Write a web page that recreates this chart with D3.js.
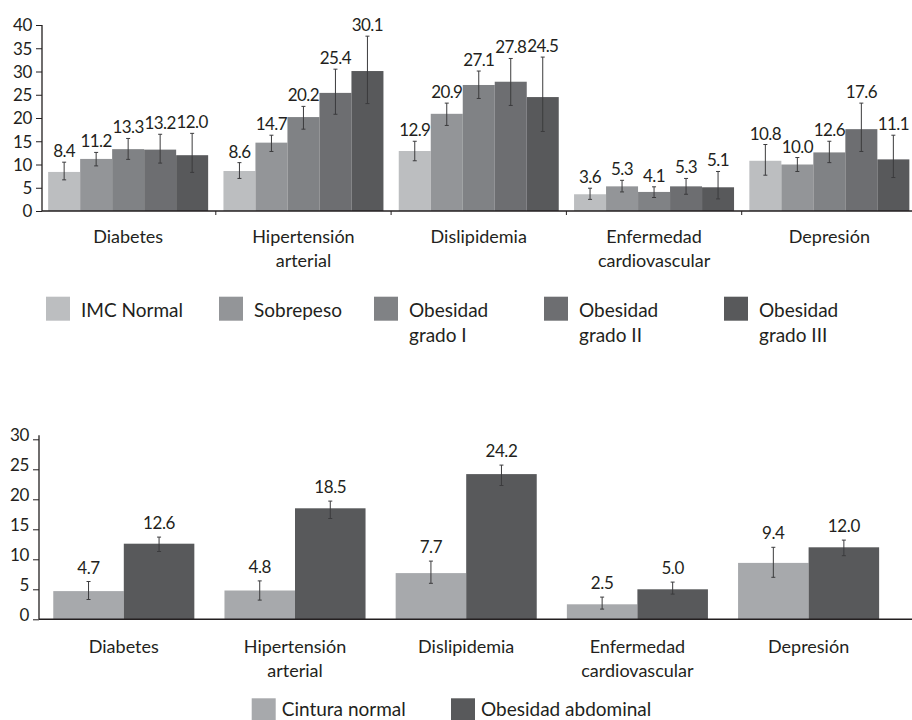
<!DOCTYPE html>
<html>
<head>
<meta charset="utf-8">
<script src="https://cdn.jsdelivr.net/npm/d3@7/dist/d3.min.js"></script>
<style>
  html, body { margin: 0; padding: 0; background: #fff; }
  svg { display: block; }
  text { font-family: Lato, "Open Sans", sans-serif; fill: #231f20; }
</style>
</head>
<body>
<svg id="chart" width="912" height="720"></svg>
<script>
// Disease categories (each entry split into its display lines)
const categories = ["Diabetes", "Hipertensión arterial", "Dislipidemia", "Enfermedad cardiovascular", "Depresión"];
const categoryLines = [["Diabetes"], ["Hipertensión", "arterial"], ["Dislipidemia"], ["Enfermedad", "cardiovascular"], ["Depresión"]];

// Panel 1: prevalence (%) by BMI category, with 95% CI
const imcSeries = ["IMC Normal", "Sobrepeso", "Obesidad grado I", "Obesidad grado II", "Obesidad grado III"];
const imcLegendLines = [["IMC Normal"], ["Sobrepeso"], ["Obesidad", "grado I"], ["Obesidad", "grado II"], ["Obesidad", "grado III"]];
const imcNormal     = [8.4, 8.6, 12.9, 3.6, 10.8];
const sobrepeso     = [11.2, 14.7, 20.9, 5.3, 10.0];
const obesidadI     = [13.3, 20.2, 27.1, 4.1, 12.6];
const obesidadII    = [13.2, 25.4, 27.8, 5.3, 17.6];
const obesidadIII   = [12.0, 30.1, 24.5, 5.1, 11.1];
const imcNormalLo   = [6.7, 7.0, 10.8, 2.5, 7.7];
const imcNormalHi   = [10.5, 10.4, 15.0, 4.9, 14.3];
const sobrepesoLo   = [9.7, 12.8, 18.4, 4.1, 8.5];
const sobrepesoHi   = [12.6, 16.3, 23.2, 6.6, 11.5];
const obesidadILo   = [11.1, 17.6, 24.2, 2.9, 10.4];
const obesidadIHi   = [15.6, 22.5, 30.1, 5.2, 15.0];
const obesidadIILo  = [10.3, 20.8, 22.7, 3.6, 12.8];
const obesidadIIHi  = [16.5, 30.5, 32.8, 7.0, 23.2];
const obesidadIIILo = [8.3, 23.1, 17.1, 2.6, 7.2];
const obesidadIIIHi = [16.7, 37.6, 33.1, 8.5, 16.3];
const imcTicks = [0, 5, 10, 15, 20, 25, 30, 35, 40];

// Panel 2: prevalence (%) by waist circumference, with 95% CI
const cinturaSeries = ["Cintura normal", "Obesidad abdominal"];
const cinturaNormal     = [4.7, 4.8, 7.7, 2.5, 9.4];
const obesidadAbdominal = [12.6, 18.5, 24.2, 5.0, 12.0];
const cinturaNormalLo   = [3.3, 3.2, 6.0, 1.7, 7.0];
const cinturaNormalHi   = [6.3, 6.4, 9.7, 3.7, 12.0];
const obesidadAbdLo     = [11.3, 16.8, 22.3, 4.2, 10.6];
const obesidadAbdHi     = [13.7, 19.7, 25.7, 6.2, 13.2];
const cinturaTicks = [0, 5, 10, 15, 20, 25, 30];

const imcColors = ["#bcbec0", "#939598", "#808285", "#6d6e71", "#58595b"];
const cinturaColors = ["#a7a9ac", "#58595b"];
const ink = "#231f20";

const svg = d3.select("#chart");

function buildRows(values, lo, hi) {
  return values.map((vals, s) => vals.map((v, i) => ({ s, cat: categories[i], v, lo: lo[s][i], hi: hi[s][i] })));
}

function drawPanel(cfg) {
  const g = svg.append("g");
  const y = d3.scaleLinear().domain(cfg.yDomain).range(cfg.yRange);
  const step = (cfg.xRange[1] - cfg.xRange[0]) / categories.length;
  const x0 = d3.scaleBand().domain(categories).range(cfg.xRange)
    .paddingInner(cfg.pad).paddingOuter(cfg.pad / 2);
  const x1 = d3.scaleBand().domain(d3.range(cfg.series.length)).range([0, x0.bandwidth()]);

  // bars
  const rows = buildRows(cfg.values, cfg.lo, cfg.hi).flat();
  g.selectAll("rect.bar").data(rows).join("rect")
    .attr("class", "bar")
    .attr("x", d => x0(d.cat) + x1(d.s))
    .attr("width", x1.bandwidth())
    .attr("y", d => y(d.v))
    .attr("height", d => y(0) - y(d.v))
    .attr("fill", d => cfg.colors[d.s]);

  // confidence intervals
  const eb = g.selectAll("g.err").data(rows).join("g")
    .attr("class", "err")
    .attr("transform", d => `translate(${x0(d.cat) + x1(d.s) + x1.bandwidth() / 2},0)`)
    .attr("stroke", "#3b3b3d").attr("stroke-width", 1);
  eb.append("line").attr("y1", d => y(d.lo)).attr("y2", d => y(d.hi));
  eb.append("line").attr("x1", -2).attr("x2", 2).attr("y1", d => y(d.lo)).attr("y2", d => y(d.lo));
  eb.append("line").attr("x1", -2).attr("x2", 2).attr("y1", d => y(d.hi)).attr("y2", d => y(d.hi));

  // value labels
  g.selectAll("text.val").data(rows).join("text")
    .attr("class", "val")
    .attr("x", d => x0(d.cat) + x1(d.s) + x1.bandwidth() / 2)
    .attr("y", d => y(d.hi) - cfg.labelGap)
    .attr("text-anchor", "middle")
    .attr("font-size", cfg.valSize)
    .attr("letter-spacing", cfg.valSpacing)
    .text(d => d.v.toFixed(1));

  // y axis
  const yAxis = g.append("g").attr("transform", `translate(${cfg.axisX},0)`)
    .call(d3.axisLeft(y).tickValues(cfg.ticks).tickSize(6).tickPadding(4).tickFormat(d3.format("d")));
  yAxis.select(".domain").remove();
  yAxis.selectAll(".tick line").attr("stroke", ink).attr("stroke-width", 1);
  yAxis.selectAll(".tick text").attr("font-size", cfg.tickSize).attr("fill", ink)
    .attr("font-family", "Lato, sans-serif").attr("dy", cfg.tickDy).attr("letter-spacing", -0.3);
  g.append("line").attr("x1", cfg.axisX).attr("x2", cfg.axisX)
    .attr("y1", y(cfg.yDomain[1]) - cfg.axisOver).attr("y2", y(0))
    .attr("stroke", ink).attr("stroke-width", 1.3);

  // x axis
  g.append("line").attr("x1", cfg.axisX).attr("x2", 912)
    .attr("y1", y(0)).attr("y2", y(0)).attr("stroke", ink).attr("stroke-width", 1.5);
  if (cfg.groupTicks) {
    g.selectAll("line.gt").data(d3.range(1, categories.length)).join("line")
      .attr("class", "gt")
      .attr("x1", i => cfg.xRange[0] + i * step).attr("x2", i => cfg.xRange[0] + i * step)
      .attr("y1", y(0)).attr("y2", y(0) + 4)
      .attr("stroke", ink).attr("stroke-width", 1);
  }

  // category labels
  const cl = g.selectAll("text.cat").data(categories).join("text")
    .attr("class", "cat")
    .attr("text-anchor", "middle")
    .attr("font-size", cfg.catSize)
    .attr("x", c => x0(c) + x0.bandwidth() / 2)
    .attr("y", cfg.catY);
  cl.selectAll("tspan").data((c, i) => categoryLines[i]).join("tspan")
    .attr("x", function () { return d3.select(this.parentNode).attr("x"); })
    .attr("dy", (t, j) => j === 0 ? 0 : cfg.catLine)
    .text(t => t);
}

// Panel 1
drawPanel({
  values: [imcNormal, sobrepeso, obesidadI, obesidadII, obesidadIII],
  lo: [imcNormalLo, sobrepesoLo, obesidadILo, obesidadIILo, obesidadIIILo],
  hi: [imcNormalHi, sobrepesoHi, obesidadIHi, obesidadIIHi, obesidadIIIHi],
  series: imcSeries, colors: imcColors,
  yDomain: [0, 40], yRange: [211, 25], ticks: imcTicks,
  xRange: [40.5, 917], pad: 0.0873, axisX: 42, axisOver: 0,
  labelGap: 5, valSize: 17, valSpacing: -0.6,
  tickSize: 17, tickDy: "0.34em",
  groupTicks: true, catSize: 18, catY: 243, catLine: 24
});

// Panel 2
drawPanel({
  values: [cinturaNormal, obesidadAbdominal],
  lo: [cinturaNormalLo, obesidadAbdLo],
  hi: [cinturaNormalHi, obesidadAbdHi],
  series: cinturaSeries, colors: cinturaColors,
  yDomain: [0, 30], yRange: [619.3, 439.3], ticks: cinturaTicks,
  xRange: [38.2, 894.2], pad: 0.176, axisX: 39, axisOver: 4,
  labelGap: 8, valSize: 17, valSpacing: -0.4,
  tickSize: 17, tickDy: "0.05em",
  groupTicks: false, catSize: 18, catY: 652.7, catLine: 24
});

// Legend, panel 1
const imcLegendX = [46, 219, 374, 544, 724];
const lg1 = svg.append("g").selectAll("g").data(imcSeries).join("g")
  .attr("transform", (d, i) => `translate(${imcLegendX[i]},296.7)`);
lg1.append("rect").attr("width", 24).attr("height", 24).attr("fill", (d, i) => imcColors[i]);
lg1.append("text").attr("x", 35).attr("y", 20).attr("font-size", 19)
  .selectAll("tspan").data((d, i) => imcLegendLines[i]).join("tspan")
  .attr("x", 35).attr("dy", (t, j) => j === 0 ? 0 : 25).text(t => t);

// Legend, panel 2
const cinturaLegendX = [251.7, 451];
const lg2 = svg.append("g").selectAll("g").data(cinturaSeries).join("g")
  .attr("transform", (d, i) => `translate(${cinturaLegendX[i]},698.3)`);
lg2.append("rect").attr("width", 24).attr("height", 24).attr("fill", (d, i) => cinturaColors[i]);
lg2.append("text").attr("x", 30).attr("y", 18).attr("font-size", 19).text(d => d);
</script>
</body>
</html>
